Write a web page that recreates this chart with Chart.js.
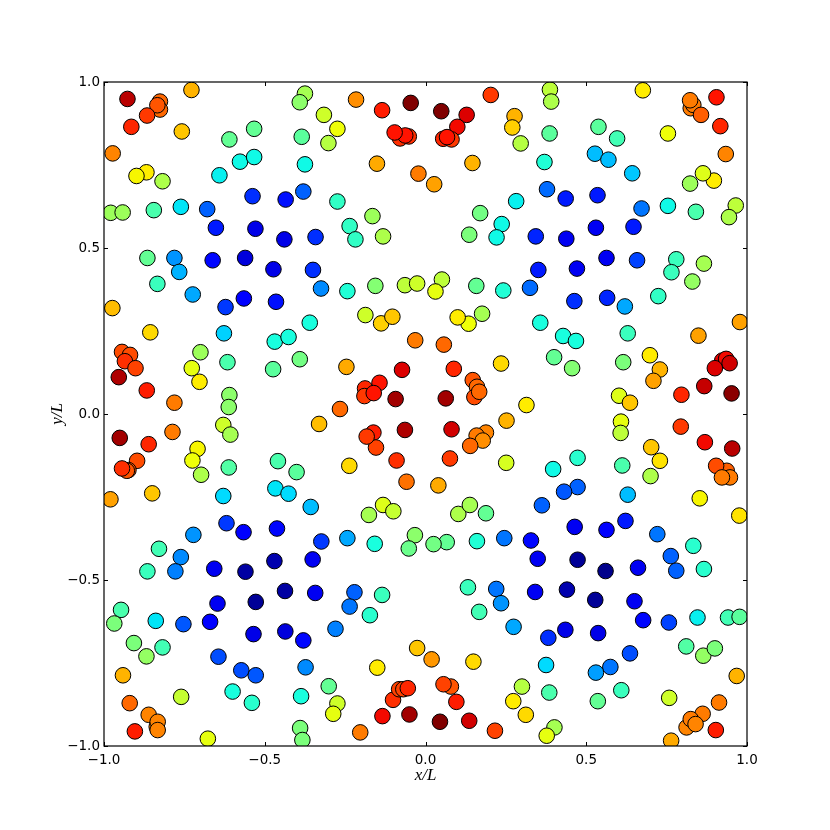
<!DOCTYPE html>
<html>
<head>
<meta charset="utf-8">
<script src="https://cdn.jsdelivr.net/npm/chart.js@4"></script>
<style>html,body{margin:0;padding:0;background:#fff}canvas{display:block}</style>
</head>
<body>
<canvas id="c" width="830" height="830"></canvas>
<script>
const xValues = [
-.927,-.826,-.826,-.834,-.866,-.915,-.728,-.758,-.973,-.868,-.899,-.818,-.979,-.942,-.845,-.761,-.679,-.641,-.577,-.533,
-.610,-.533,-.375,-.391,-.316,-.274,-.385,-.302,-.375,-.216,-.135,-.046,-.079,-.052,-.063,-.096,-.151,-.022,-.538,-.435,
-.380,-.274,-.165,-.236,-.218,-.132,-.342,-.439,-.529,-.652,-.865,-.781,-.766,-.834,-.662,-.561,-.473,-.350,-.724,-.622,
-.565,-.465,-.325,-.243,-.156,-.064,-.026,-.974,-.856,-.627,-.187,-.138,-.103,-.032,-.360,-.469,-.426,-.700,-.616,-.727,
-.703,-.391,-.474,-.246,-.944,-.919,-.935,-.902,-.954,-.867,-.781,-.610,-.612,-.188,-.143,-.190,-.161,-.073,-.093,-.266,
.027,.203,.387,.391,.676,.825,.833,.823,.857,.905,.917,.934,.049,.128,.099,.055,.081,.067,.277,.270,
.296,.386,.538,.596,.754,.370,.146,.527,.569,.643,.823,.897,.863,.965,.944,.841,.754,.672,.535,.436,
.378,.282,.170,.237,.221,.136,.343,.438,.530,.647,.563,.658,.780,.866,.765,.830,.351,.471,.051,.031,
.158,.242,.325,.463,.565,.620,.724,.134,.100,.176,.357,.428,.468,.629,.978,.849,.057,.400,.456,.235,
.615,.698,.729,.709,.088,.147,.160,.152,.167,.063,.314,.602,.636,.796,.867,.952,.923,.935,.900,.946,
-.629,-.607,-.331,-.787,-.861,-.951,-.897,-.924,-.929,-.944,-.980,-.850,-.709,-.725,-.698,-.612,-.629,-.459,-.401,-.467,
-.426,-.357,-.237,-.162,-.154,-.183,-.090,-.064,-.059,-.132,-.176,-.100,-.033,-.052,-.158,-.243,-.324,-.462,-.566,-.619,
-.722,-.829,-.761,-.778,-.865,-.657,-.560,-.470,-.351,-.437,-.343,-.221,-.236,-.135,-.173,-.647,-.528,-.947,-.968,-.839,
-.753,-.670,-.535,-.436,-.380,-.280,-.907,-.868,-.818,-.644,-.573,-.528,-.373,-.026,-.150,-.941,-.760,-.600,-.540,-.387,
-.301,-.274,-.287,-.920,-.861,-.836,-.833,-.833,-.904,-.677,-.390,-.383,-.203,-.134,-.050,-.101,-.082,-.069,-.055,
.081,.188,.159,.178,.139,.076,.252,.251,.040,.608,.607,.702,.729,.700,.612,.473,.397,.794,.869,.954,
.937,.904,.947,.922,.853,.976,.629,.473,.431,.362,.102,.138,.188,.464,.563,.622,.721,.833,.763,.780,
.866,.661,.560,.349,.473,.328,.245,.160,.066,.025,.132,.220,.235,.167,.341,.440,.528,.650,.677,.757,
.846,.941,.977,.435,.537,.382,.274,.811,.864,.900,.019,.149,.375,.636,.575,.530,.609,.536,.385,.300,
.273,.312,.758,.968,.913,.862,.812,.825,.840,.903,.764,.079,.056,.096,.045,.136,.216,.401,.377
];
const yValues = [
.949,.941,.917,.930,.899,.865,.976,.851,.785,.728,.717,.701,.606,.607,.614,.624,.617,.719,.760,.774,
.827,.859,.965,.939,.901,.859,.835,.816,.752,.947,.915,.937,.830,.836,.839,.848,.754,.724,.656,.646,
.670,.640,.596,.566,.526,.535,.533,.526,.558,.561,.470,.470,.428,.392,.463,.470,.436,.434,.360,.322,
.348,.338,.378,.370,.386,.388,.393,.319,.246,.243,.298,.273,.293,.222,.275,.218,.232,.186,.156,.138,
.097,.165,.135,.142,.187,.178,.159,.138,.111,.071,.034,.057,.021,.077,.094,.054,.063,.133,.045,.015,
.692,.961,.977,.941,.975,.921,.931,.945,.901,.954,.867,.783,.912,.901,.865,.829,.827,.834,.897,.863,
.815,.845,.865,.830,.845,.759,.756,.784,.766,.725,.694,.703,.725,.628,.593,.609,.627,.619,.659,.649,
.677,.641,.605,.572,.532,.540,.535,.528,.561,.564,.470,.463,.466,.453,.427,.399,.434,.438,.405,.369,
.386,.372,.380,.340,.350,.324,.355,.272,.291,.302,.275,.235,.220,.243,.277,.236,.209,.171,.138,.152,
.156,.177,.134,.100,.136,.102,.082,.051,.067,.047,.027,.055,.034,.058,.084,.062,.161,.166,.138,.153,
-.033,-.062,-.030,-.054,-.091,-.072,-.141,-.169,-.171,-.164,-.257,-.239,-.105,-.140,-.183,-.161,-.247,-.142,-.175,-.224,
-.240,-.280,-.156,-.056,-.101,-.068,-.140,-.048,-.204,-.274,-.304,-.293,-.365,-.405,-.391,-.374,-.384,-.345,-.356,-.329,
-.364,-.406,-.431,-.474,-.474,-.466,-.475,-.443,-.438,-.533,-.539,-.537,-.580,-.545,-.606,-.571,-.566,-.590,-.631,-.623,
-.633,-.626,-.663,-.655,-.682,-.647,-.690,-.730,-.703,-.731,-.772,-.787,-.763,-.705,-.764,-.787,-.852,-.836,-.870,-.850,
-.820,-.872,-.903,-.871,-.906,-.942,-.927,-.952,-.956,-.978,-.946,-.982,-.959,-.910,-.905,-.861,-.829,-.829,-.826,
-.046,-.056,-.065,-.080,-.096,-.134,-.020,-.147,-.215,-.023,-.057,-.100,-.141,-.187,-.155,-.132,-.166,-.038,-.085,-.104,
-.171,-.156,-.191,-.191,-.254,-.306,-.243,-.220,-.234,-.275,-.301,-.274,-.299,-.340,-.349,-.322,-.362,-.397,-.428,-.472,
-.467,-.463,-.473,-.436,-.439,-.381,-.374,-.383,-.386,-.392,-.522,-.527,-.570,-.596,-.536,-.529,-.560,-.564,-.621,-.628,
-.613,-.613,-.611,-.650,-.660,-.674,-.641,-.700,-.728,-.706,-.739,-.746,-.756,-.721,-.762,-.779,-.832,-.865,-.839,-.821,
-.865,-.906,-.855,-.789,-.869,-.903,-.944,-.919,-.934,-.952,-.984,-.821,-.814,-.867,-.927,-.924,-.954,-.944,-.969
];
const colorValues = [
.95,.80,.80,.82,.85,.87,.72,.70,.77,.66,.65,.56,.54,.54,.44,.35,.22,.36,.37,.37,
.47,.47,.55,.52,.60,.64,.46,.57,.37,.76,.88,1.0,.86,.86,.89,.89,.73,.78,.17,.14,
.22,.41,.54,.41,.41,.56,.17,.09,.09,.15,.47,.27,.30,.42,.13,.08,.09,.17,.29,.18,
.12,.14,.26,.39,.51,.58,.60,.71,.68,.33,.60,.69,.70,.78,.38,.38,.38,.54,.44,.63,
.66,.49,.46,.73,.83,.83,.86,.84,.96,.88,.78,.52,.52,.87,.89,.85,.89,.92,.97,.80,
.74,.85,.58,.56,.66,.78,.78,.78,.81,.89,.87,.77,1.0,.92,.90,.87,.85,.89,.72,.69,
.57,.46,.46,.43,.64,.39,.72,.31,.31,.32,.54,.66,.62,.58,.56,.44,.37,.24,.15,.15,
.23,.36,.49,.37,.37,.50,.16,.10,.10,.15,.10,.19,.42,.55,.42,.53,.15,.10,.58,.63,
.47,.39,.23,.17,.16,.29,.41,.64,.66,.55,.38,.38,.38,.42,.74,.74,.80,.47,.51,.68,
.50,.66,.72,.74,.87,.82,.80,.83,.80,.97,.66,.62,.70,.87,.94,.99,.91,.90,.92,.93,
.60,.55,.71,.78,.87,.97,.83,.82,.82,.86,.74,.70,.65,.64,.56,.45,.34,.44,.46,.35,
.34,.31,.68,.88,.84,.85,.86,.96,.79,.62,.55,.59,.52,.48,.38,.29,.18,.13,.12,.18,
.27,.43,.26,.25,.42,.10,.03,.04,.10,.03,.10,.22,.24,.42,.40,.10,.02,.44,.50,.35,
.21,.11,.09,.08,.13,.25,.50,.53,.43,.20,.20,.21,.26,.70,.66,.72,.59,.38,.40,.38,
.47,.60,.63,.80,.77,.77,.77,.77,.88,.63,.50,.50,.78,.90,.97,.86,.84,.84,.87,
.93,.77,.78,.76,.80,.85,.72,.61,.73,.63,.58,.70,.67,.56,.44,.40,.37,.85,.90,.95,
.81,.83,.78,.78,.65,.67,.31,.22,.21,.22,.56,.55,.47,.10,.11,.15,.24,.40,.22,.22,
.40,.10,.01,.10,.02,.13,.24,.39,.47,.49,.42,.24,.27,.43,.10,.04,.02,.10,.13,.19,
.36,.43,.46,.09,.09,.17,.29,.45,.53,.50,.75,.68,.34,.20,.24,.28,.42,.47,.44,.57,
.66,.68,.60,.72,.78,.78,.77,.78,.77,.88,.73,.82,.84,.88,1.0,.93,.84,.55,.63
];
const axisTicks = [-1, -0.5, 0, 0.5, 1];
const xTitle = 'x/L';
const yTitle = 'y/L';

function lerpJet(v, pts) {
  for (let i = 1; i < pts.length; i++) {
    if (v <= pts[i][0]) {
      const a = pts[i - 1], b = pts[i];
      return a[1] + (b[1] - a[1]) * (v - a[0]) / (b[0] - a[0]);
    }
  }
  return pts[pts.length - 1][1];
}
function jet(v) {
  const r = lerpJet(v, [[0,0],[.35,0],[.66,1],[.89,1],[1,.5]]);
  const g = lerpJet(v, [[0,0],[.125,0],[.375,1],[.64,1],[.91,0],[1,0]]);
  const b = lerpJet(v, [[0,.5],[.11,1],[.34,1],[.65,0],[1,0]]);
  return `rgb(${Math.round(r*255)},${Math.round(g*255)},${Math.round(b*255)})`;
}

const frameAndTicks = {
  id: 'frameAndTicks',
  afterDatasetsDraw(chart) {
    const {ctx, chartArea: a, scales: {x, y}} = chart;
    ctx.save();
    ctx.strokeStyle = '#000';
    ctx.lineWidth = 1;
    ctx.beginPath();
    x.ticks.forEach(t => {
      const p = Math.round(x.getPixelForValue(t.value)) + 0.5;
      ctx.moveTo(p, a.bottom); ctx.lineTo(p, a.bottom - 4);
      ctx.moveTo(p, a.top); ctx.lineTo(p, a.top + 4);
    });
    y.ticks.forEach(t => {
      const p = Math.round(y.getPixelForValue(t.value)) + 0.5;
      ctx.moveTo(a.left, p); ctx.lineTo(a.left + 4, p);
      ctx.moveTo(a.right, p); ctx.lineTo(a.right - 4, p);
    });
    ctx.stroke();
    ctx.lineWidth = 1.2;
    ctx.strokeRect(a.left, a.top, a.right - a.left, a.bottom - a.top);
    ctx.restore();
  }
};

const tickFont = {family: '"DejaVu Sans"', size: 13.5};
const titleFont = {family: '"Liberation Serif"', size: 17, style: 'italic'};
const fmt = v => (v < 0 ? '\u2212' : '') + Math.abs(v).toFixed(1);

new Chart(document.getElementById('c'), {
  type: 'scatter',
  data: {
    datasets: [{
      data: xValues.map((x, i) => ({x, y: yValues[i]})),
      pointRadius: 7.8,
      pointHoverRadius: 7.8,
      pointBackgroundColor: colorValues.map(jet),
      pointBorderColor: '#000',
      pointBorderWidth: 1,
      clip: 0
    }]
  },
  options: {
    responsive: false,
    animation: false,
    events: [],
    layout: {padding: {left: 47, right: 83, top: 82, bottom: 44}},
    plugins: {legend: {display: false}, tooltip: {enabled: false}},
    scales: {
      x: {
        type: 'linear', min: -1, max: 1,
        afterBuildTicks: s => { s.ticks = axisTicks.map(value => ({value})); },
        afterFit: s => { s.height = 40; },
        grid: {display: false, drawTicks: false},
        border: {display: false},
        ticks: {font: tickFont, color: '#000', padding: 6, maxRotation: 0, callback: fmt},
        title: {display: true, text: xTitle, font: titleFont, color: '#000', padding: {top: 0, bottom: 0}}
      },
      y: {
        type: 'linear', min: -1, max: 1,
        afterBuildTicks: s => { s.ticks = axisTicks.map(value => ({value})); },
        afterFit: s => { s.width = 57; },
        grid: {display: false, drawTicks: false},
        border: {display: false},
        ticks: {font: tickFont, color: '#000', padding: 4, callback: fmt},
        title: {display: true, text: yTitle, font: titleFont, color: '#000', padding: {top: 0, bottom: 0}}
      }
    }
  },
  plugins: [frameAndTicks]
});
</script>
</body>
</html>
